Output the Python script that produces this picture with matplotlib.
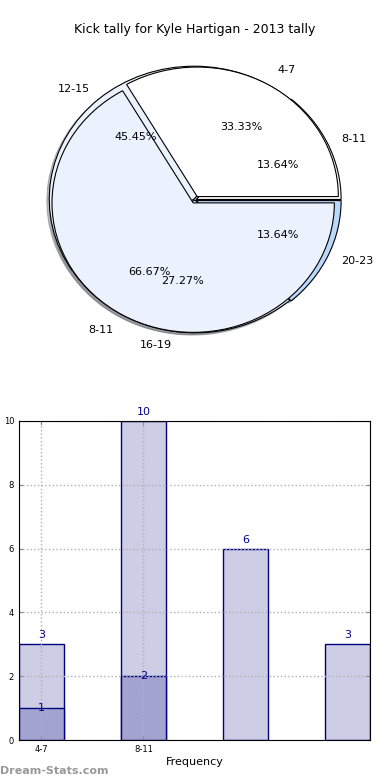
import matplotlib
matplotlib.use('Agg')
import matplotlib.pyplot as plt

# pie 1: first two ranges, pie 2: season totals
inner_labels = ['4-7', '8-11']
inner_vals = [1, 2]
outer_labels = ['8-11', '12-15', '16-19', '20-23']
outer_vals = [3, 10, 6, 3]

# bar chart
bar_totals = [3, 10, 6, 3]
bar_parts = [1, 2]
tick_labels = ['4-7', '8-11']

fig = plt.figure(figsize=(3.9, 7.8), dpi=100)
fig.text(0.5, 0.962, 'Kick tally for Kyle Hartigan - 2013 tally', ha='center', va='center', fontsize=9)

# pies
ax1 = fig.add_axes([14 / 390, 414 / 780, 362 / 390, 332 / 780])
wp = dict(edgecolor='black', linewidth=0.8)
shadow = dict(ox=-0.012, oy=-0.012, shade=0.5)
ax1.pie(outer_vals, labels=outer_labels, colors=['white', '#EBF1FD', '#EBF1FD', '#BAD8FB'],
        explode=[0.01, 0.01, 0.0, 0.01], autopct='%.2f%%', pctdistance=0.62, labeldistance=1.1,
        shadow=shadow, wedgeprops=wp, textprops=dict(fontsize=8))
ax1.pie(inner_vals, labels=inner_labels, colors=['white', '#EBF1FD'], radius=0.975,
        explode=[0.03, 0.025], autopct='%.2f%%', pctdistance=0.62, labeldistance=1.13,
        shadow=shadow, wedgeprops=wp, textprops=dict(fontsize=8))
ax1.set_aspect('auto')
ax1.set_xlim(-1.25, 1.25)
ax1.set_ylim(-1.25, 1.25)

# bars
ax2 = fig.add_axes([19 / 390, 40 / 780, 351 / 390, 319 / 780])
w = 0.44
xs = list(range(len(bar_totals)))
ax2.bar(xs, bar_totals, width=w, align='edge', color='#CDCDE5', edgecolor='#000080', linewidth=1, zorder=2)
ax2.bar(xs[:len(bar_parts)], bar_parts, width=w, align='edge', color='#A3A3D0', edgecolor='#000080', linewidth=1, zorder=2)
for x, v in zip(xs, bar_totals):
    ax2.text(x + w / 2, v + 0.12, str(v), ha='center', va='bottom', color='#00008B', fontsize=8)
for x, v in zip(xs, bar_parts):
    ax2.text(x + w / 2, v, str(v), ha='center', va='center', color='#00008B', fontsize=8)

ax2.set_xlim(0, 3 + w)
ax2.set_ylim(0, 10)
ax2.set_yticks([0, 2, 4, 6, 8, 10])
ax2.set_xticks([x + w / 2 for x in xs[:len(tick_labels)]])
ax2.set_xticklabels(tick_labels)
ax2.tick_params(labelsize=6, direction='in', length=3, color='#888888', top=True, right=True)
ax2.set_axisbelow(False)
ax2.grid(True, linestyle=':', color='#b0b0b0', linewidth=1, zorder=3)
for sp in ax2.spines.values():
    sp.set_zorder(4)
ax2.set_xlabel('Frequency', fontsize=8, labelpad=2)

fig.text(0.0, 0.012, 'Dream-Stats.com', fontsize=8, color='#999999', fontweight='bold', ha='left', va='center')

plt.savefig('out.png', dpi=100)
